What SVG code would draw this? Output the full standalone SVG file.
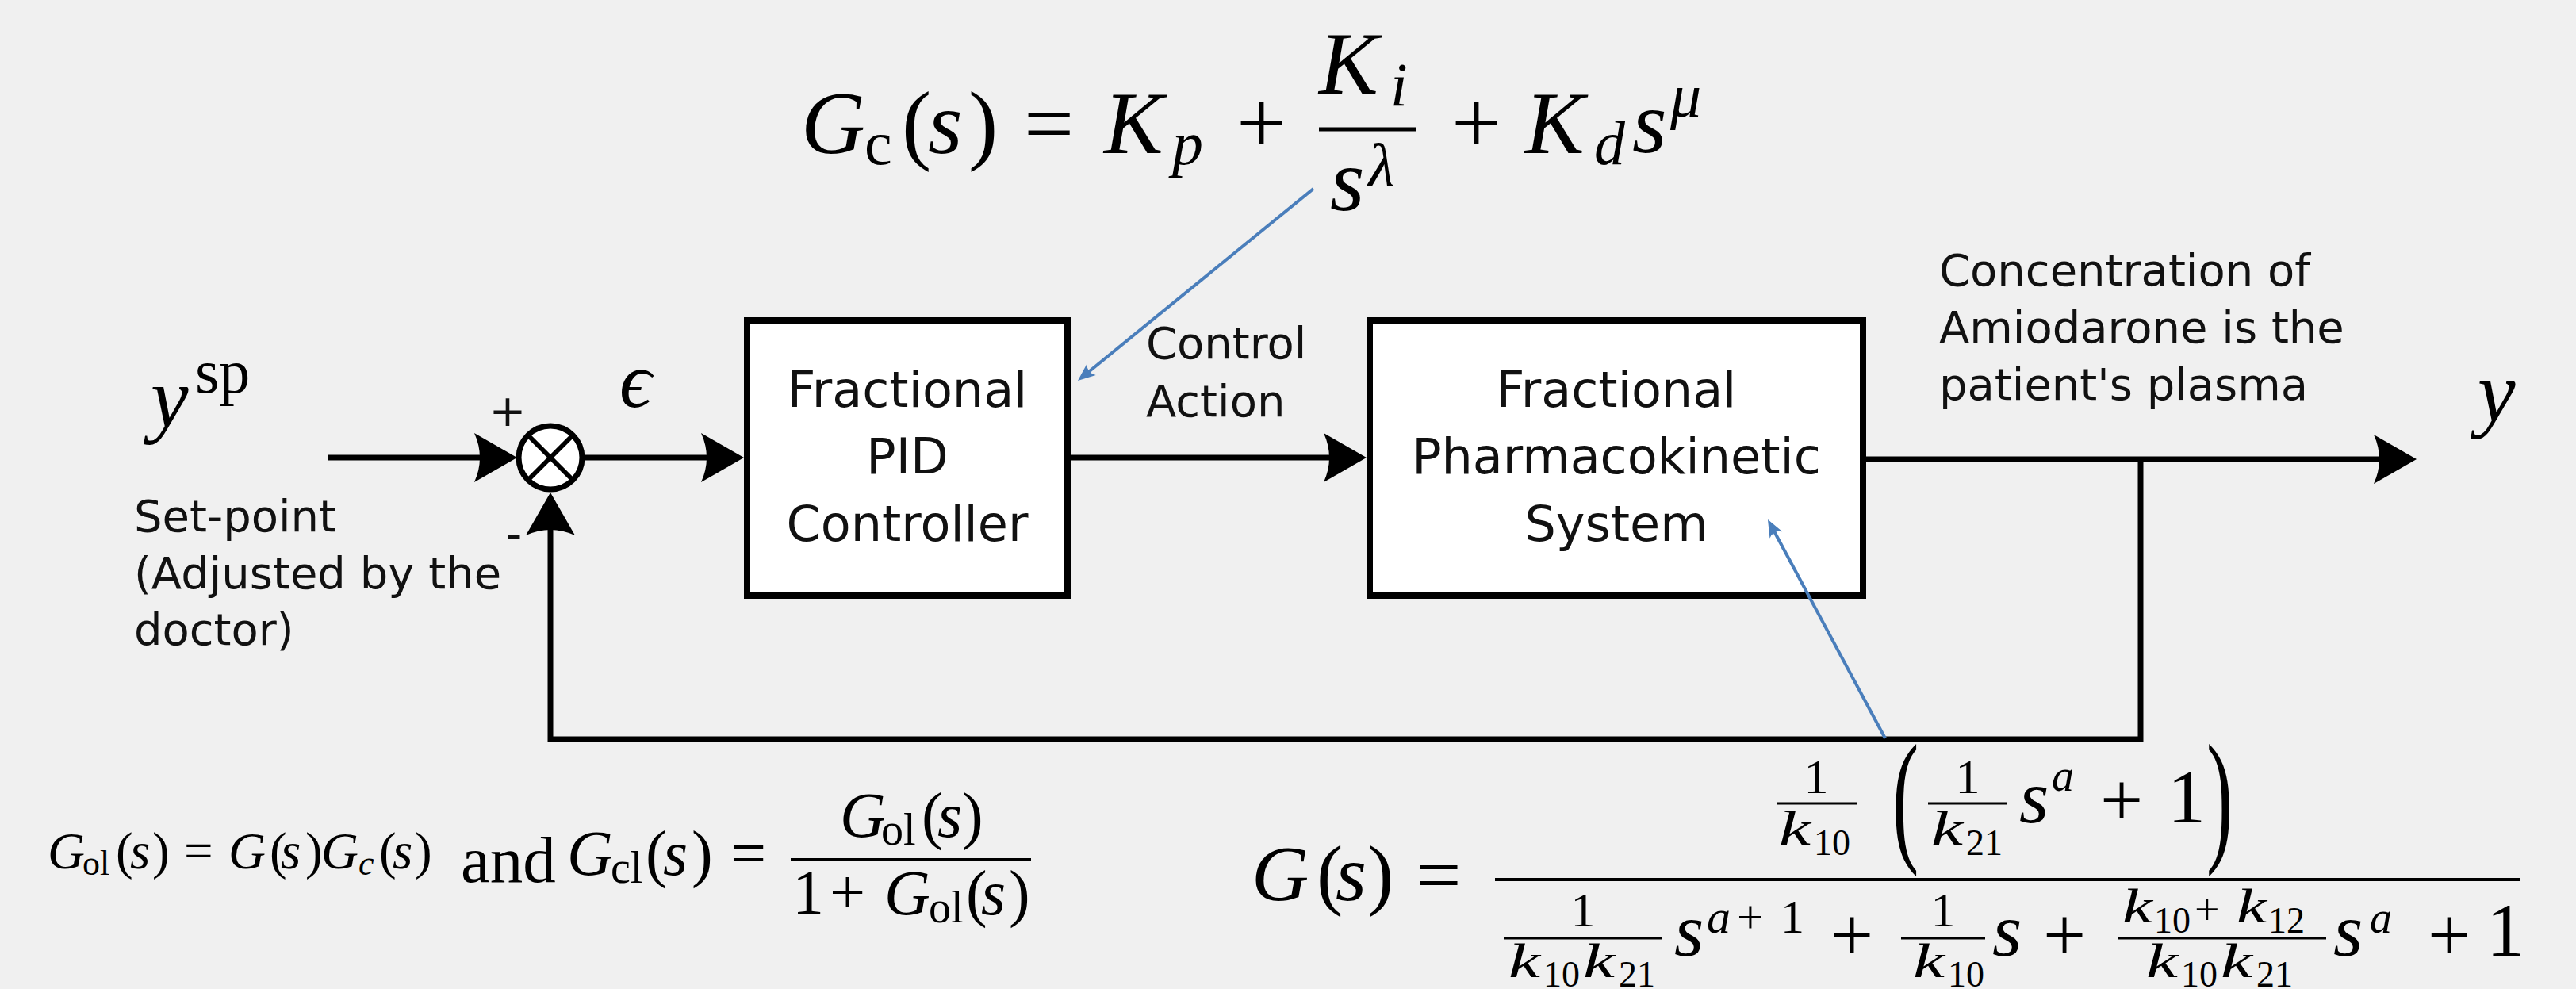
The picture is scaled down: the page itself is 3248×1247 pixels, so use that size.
<svg xmlns="http://www.w3.org/2000/svg" width="3248" height="1247" viewBox="0 0 3248 1247">
<style>
.box{fill:#fff;stroke:#000;stroke-width:8}
.wire{fill:none;stroke:#000;stroke-width:7}
.note{fill:none;stroke:#4a7ebb;stroke-width:4}
.lbl{font-family:"DejaVu Sans",sans-serif;font-size:56px;fill:#111}
.blk{font-family:"DejaVu Sans",sans-serif;font-size:62px;fill:#111;text-anchor:middle}
.m{font-family:"Liberation Serif","DejaVu Serif",serif;fill:#000}
.i{font-style:italic}
.bar{stroke:#000;fill:none}
.k{font-family:"Liberation Serif","DejaVu Serif",serif;font-style:italic;font-size:62px}
.sub{font-family:"Liberation Serif","DejaVu Serif",serif;font-size:46px}
</style>
<defs>
<marker id="arr" viewBox="-56 -32 60 64" refX="-16" refY="0" markerWidth="60" markerHeight="64" markerUnits="userSpaceOnUse" orient="auto"><path d="M-54,-31 L0,0 L-54,31 Q-40,0 -54,-31 Z" fill="#000"/></marker>
<marker id="barr" viewBox="-24 -10 26 20" refX="-6" refY="0" markerWidth="26" markerHeight="20" markerUnits="userSpaceOnUse" orient="auto"><path d="M-22,-9 L0,0 L-22,9 Q-15,0 -22,-9 Z" fill="#4a7ebb"/></marker>
</defs>
<rect width="3248" height="1247" fill="#f0f0f0"/>

<g id="connectors">
<path class="wire" d="M413,577 H636" marker-end="url(#arr)"/>
<path class="wire" d="M734,577 H922" marker-end="url(#arr)"/>
<path class="wire" d="M1350,577 H1707" marker-end="url(#arr)"/>
<path class="wire" d="M2353,579 H3031" marker-end="url(#arr)"/>
<path class="wire" d="M2699,579 V932 H694 V637" marker-end="url(#arr)"/>
</g>

<g id="sum">
<circle cx="694" cy="577" r="40" fill="#fff" stroke="#000" stroke-width="7"/>
<path d="M666,549 L722,605 M722,549 L666,605" stroke="#000" stroke-width="6"/>
<text class="lbl" x="640" y="537" text-anchor="middle">+</text>
<text class="lbl" x="648" y="692" text-anchor="middle">-</text>
</g>

<g id="pid">
<rect class="box" x="942" y="404" width="404" height="347"/>
<text class="blk" x="1144" y="513">Fractional</text>
<text class="blk" x="1144" y="597">PID</text>
<text class="blk" x="1144" y="682">Controller</text>
</g>

<g id="plant">
<rect class="box" x="1727" y="404" width="622" height="347"/>
<text class="blk" x="2038" y="513">Fractional</text>
<text class="blk" x="2038" y="597">Pharmacokinetic</text>
<text class="blk" x="2038" y="682">System</text>
</g>

<g id="annotations">
<path class="note" d="M1656,238 L1363.6,476.2" marker-end="url(#barr)"/>
<path class="note" d="M2377,931 L2231.8,660.3" marker-end="url(#barr)"/>
</g>

<g id="labels">
<text class="m i" font-size="107" x="190" y="538">y</text>
<text class="m" font-size="78" x="246" y="495">sp</text>
<text class="lbl" x="169" y="670">Set-point</text>
<text class="lbl" x="169" y="742">(Adjusted by the</text>
<text class="lbl" x="169" y="813">doctor)</text>
<text class="m i" font-size="100" x="781" y="513">ϵ</text>
<text class="lbl" x="1445" y="452">Control</text>
<text class="lbl" x="1445" y="525">Action</text>
<text class="lbl" x="2445" y="360">Concentration of</text>
<text class="lbl" x="2445" y="432">Amiodarone is the</text>
<text class="lbl" x="2445" y="504">patient's plasma</text>
<text class="m i" font-size="107" x="3124" y="531">y</text>
</g>

<g id="eq-controller">
<text class="m i" font-size="112" x="1010" y="193">G</text>
<text class="m" font-size="78" x="1090" y="207">c</text>
<text class="m" font-size="112" x="1137" y="193">(</text>
<text class="m i" font-size="112" x="1170" y="193">s</text>
<text class="m" font-size="112" x="1221" y="193">)</text>
<text class="m" font-size="112" x="1291" y="193">=</text>
<text class="m i" font-size="112" x="1392" y="193">K</text>
<text class="m i" font-size="78" x="1478" y="207">p</text>
<text class="m" font-size="112" x="1559" y="193">+</text>
<text class="m i" font-size="112" x="1663" y="118">K</text>
<text class="m i" font-size="78" x="1753" y="133">i</text>
<path class="bar" stroke-width="5" d="M1663,163 H1785"/>
<text class="m i" font-size="112" x="1677" y="265">s</text>
<text class="m i" font-size="78" x="1725" y="235">λ</text>
<text class="m" font-size="112" x="1830" y="193">+</text>
<text class="m i" font-size="112" x="1923" y="193">K</text>
<text class="m i" font-size="78" x="2010" y="207">d</text>
<text class="m i" font-size="112" x="2058" y="192">s</text>
<text class="m i" font-size="78" x="2106" y="147">μ</text>
</g>

<g id="eq-loop">
<text class="m i" font-size="65" x="60" y="1095">G</text>
<text class="m" font-size="44" x="104" y="1103">ol</text>
<text class="m" font-size="65" x="146" y="1095">(</text>
<text class="m i" font-size="65" x="164" y="1095">s</text>
<text class="m" font-size="65" x="192" y="1095">)</text>
<text class="m" font-size="65" x="232" y="1095">=</text>
<text class="m i" font-size="65" x="288" y="1095">G</text>
<text class="m" font-size="65" x="340" y="1095">(</text>
<text class="m i" font-size="65" x="354" y="1095">s</text>
<text class="m" font-size="65" x="385" y="1095">)</text>
<text class="m i" font-size="65" x="405" y="1095">G</text>
<text class="m i" font-size="44" x="452" y="1103">c</text>
<text class="m" font-size="65" x="478" y="1095">(</text>
<text class="m i" font-size="65" x="495" y="1095">s</text>
<text class="m" font-size="65" x="523" y="1095">)</text>
<text class="m" font-size="83" x="581" y="1112" fill="#595959">and</text>
<text class="m i" font-size="80" x="715" y="1103">G</text>
<text class="m" font-size="56" x="770" y="1113">cl</text>
<text class="m" font-size="80" x="814" y="1103">(</text>
<text class="m i" font-size="80" x="836" y="1103">s</text>
<text class="m" font-size="80" x="872" y="1103">)</text>
<text class="m" font-size="80" x="921" y="1103">=</text>
<path class="bar" stroke-width="4" d="M997,1084 H1300"/>
<text class="m i" font-size="80" x="1059" y="1055">G</text>
<text class="m" font-size="56" x="1111" y="1065">ol</text>
<text class="m" font-size="80" x="1162" y="1055">(</text>
<text class="m i" font-size="80" x="1182" y="1055">s</text>
<text class="m" font-size="80" x="1213" y="1055">)</text>
<text class="m" font-size="80" x="999" y="1152">1</text>
<text class="m" font-size="80" x="1046" y="1152">+</text>
<text class="m i" font-size="80" x="1115" y="1153">G</text>
<text class="m" font-size="56" x="1171" y="1163">ol</text>
<text class="m" font-size="80" x="1218" y="1153">(</text>
<text class="m i" font-size="80" x="1237" y="1153">s</text>
<text class="m" font-size="80" x="1272" y="1153">)</text>
</g>

<g id="eq-plant">
<text class="m i" font-size="100" x="1578" y="1135">G</text>
<text class="m" font-size="100" x="1660" y="1135">(</text>
<text class="m i" font-size="100" x="1684" y="1135">s</text>
<text class="m" font-size="100" x="1724" y="1135">)</text>
<text class="m" font-size="100" x="1786" y="1137">=</text>
<path class="bar" stroke-width="4" d="M1885,1109 H3178"/>
<path class="bar" stroke-width="3" d="M2241,1013 H2342"/>
<text class="m" font-size="62" x="2290" y="1000" text-anchor="middle">1</text>
<text class="k" x="2243" y="1065" textLength="40" lengthAdjust="spacingAndGlyphs">k</text>
<text class="sub" x="2287" y="1078">10</text>
<text class="m" font-size="100" transform="translate(2386,1066) scale(1,1.85)">(</text>
<path class="bar" stroke-width="3" d="M2431,1013 H2531"/>
<text class="m" font-size="62" x="2481" y="1000" text-anchor="middle">1</text>
<text class="k" x="2435" y="1065" textLength="40" lengthAdjust="spacingAndGlyphs">k</text>
<text class="sub" x="2479" y="1078">21</text>
<text class="m i" font-size="96" x="2546" y="1037">s</text>
<text class="m i" font-size="56" x="2587" y="997">a</text>
<text class="m" font-size="96" x="2648" y="1040">+</text>
<text class="m" font-size="96" x="2733" y="1037">1</text>
<text class="m" font-size="100" transform="translate(2782,1066) scale(1,1.85)">)</text>
<path class="bar" stroke-width="3" d="M1896,1183 H2096"/>
<text class="m" font-size="62" x="1996" y="1168" text-anchor="middle">1</text>
<text class="k" x="1902" y="1232" textLength="40" lengthAdjust="spacingAndGlyphs">k</text>
<text class="sub" x="1946" y="1244">10</text>
<text class="k" x="1996" y="1232" textLength="40" lengthAdjust="spacingAndGlyphs">k</text>
<text class="sub" x="2041" y="1244">21</text>
<text class="m i" font-size="96" x="2111" y="1205">s</text>
<text class="m i" font-size="60" x="2152" y="1176">a</text>
<text class="m" font-size="60" x="2190" y="1176">+</text>
<text class="m" font-size="60" x="2245" y="1176">1</text>
<text class="m" font-size="96" x="2308" y="1210">+</text>
<path class="bar" stroke-width="3" d="M2397,1183 H2503"/>
<text class="m" font-size="62" x="2450" y="1168" text-anchor="middle">1</text>
<text class="k" x="2412" y="1232" textLength="40" lengthAdjust="spacingAndGlyphs">k</text>
<text class="sub" x="2456" y="1244">10</text>
<text class="m i" font-size="96" x="2512" y="1205">s</text>
<text class="m" font-size="96" x="2576" y="1210">+</text>
<path class="bar" stroke-width="3" d="M2671,1183 H2933"/>
<text class="k" x="2676" y="1163" textLength="38" lengthAdjust="spacingAndGlyphs">k</text>
<text class="sub" x="2716" y="1176">10</text>
<text class="m" font-size="56" x="2767" y="1166">+</text>
<text class="k" x="2820" y="1163" textLength="38" lengthAdjust="spacingAndGlyphs">k</text>
<text class="sub" x="2860" y="1176">12</text>
<text class="k" x="2706" y="1232" textLength="40" lengthAdjust="spacingAndGlyphs">k</text>
<text class="sub" x="2750" y="1244">10</text>
<text class="k" x="2800" y="1232" textLength="40" lengthAdjust="spacingAndGlyphs">k</text>
<text class="sub" x="2845" y="1244">21</text>
<text class="m i" font-size="96" x="2942" y="1205">s</text>
<text class="m i" font-size="56" x="2988" y="1176">a</text>
<text class="m" font-size="96" x="3061" y="1210">+</text>
<text class="m" font-size="96" x="3135" y="1205">1</text>
</g>
</svg>
